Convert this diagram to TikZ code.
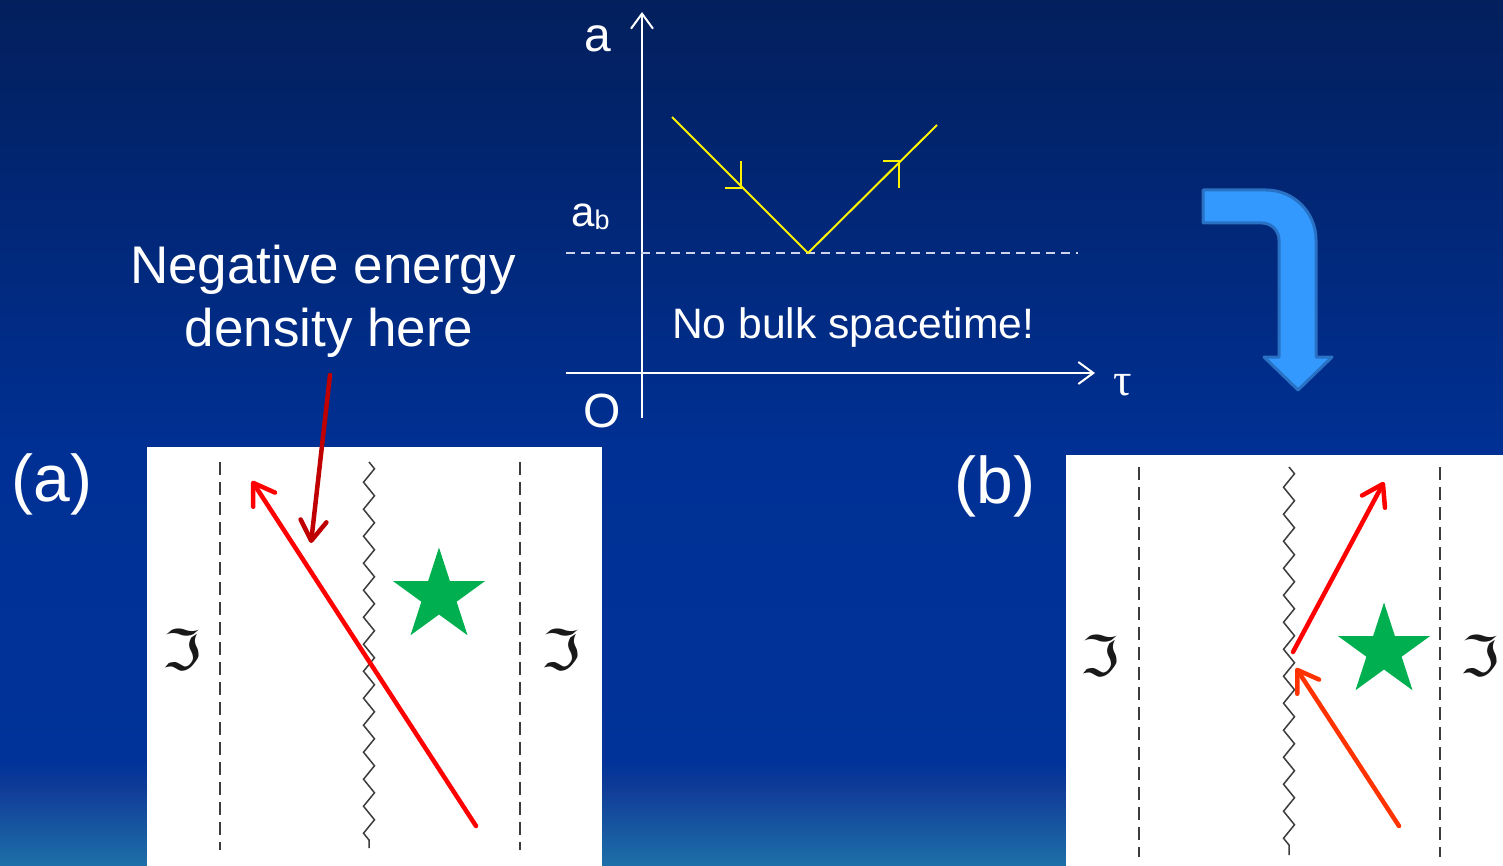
\documentclass[tikz,border=0pt]{standalone}
\usepackage{fontspec}
\setmainfont{Liberation Sans}
\newfontfamily\taufont{Liberation Serif}
\newfontfamily\scrifont{DejaVu Sans}
\usetikzlibrary{arrows.meta,decorations.pathmorphing,shapes.geometric,calc}
\definecolor{bgtop}{RGB}{3,31,92}
\definecolor{bgmid}{RGB}{0,48,148}
\definecolor{bglow}{RGB}{0,51,153}
\definecolor{bgpur}{RGB}{16,60,152}
\definecolor{bgbot}{RGB}{30,112,168}
\definecolor{starg}{RGB}{0,176,80}
\definecolor{darkred}{RGB}{192,0,0}
\definecolor{orred}{RGB}{255,51,0}
\definecolor{arrowblue}{RGB}{51,153,255}
\definecolor{arrowedge}{RGB}{41,113,196}
\definecolor{dashwhite}{RGB}{205,212,235}
\definecolor{zzgray}{RGB}{60,60,60}
\pgfdeclareverticalshading{bgshade}{100bp}{color(0bp)=(bgbot); color(25bp)=(bgbot); color(29.5bp)=(bgpur); color(31bp)=(bglow); color(49bp)=(bgmid); color(75bp)=(bgtop); color(100bp)=(bgtop)}
\tikzset{
  lbl/.style={text=white, inner sep=0pt},
  axisline/.style={draw=white, line width=2pt, -{Straight Barb[length=15pt,width=22pt]}},
  yel/.style={draw=yellow, line width=2pt},
  panel/.style={fill=white, draw=none},
  bound/.style={draw=zzgray, line width=1.5pt, dash pattern=on 13pt off 7pt},
  zz/.style={draw=zzgray, line width=1.5pt, decorate, decoration={zigzag, segment length=27pt, amplitude=5.5pt}},
  ray/.style={line width=4.5pt, line cap=round, -{Straight Barb[length=20pt,width=26pt,round]}},
  scri/.style={font=\scrifont\fontsize{56}{56}\selectfont, text=black!90, inner sep=0pt},
  bigstar/.style={star, star points=5, star point ratio=2.618, minimum size=97pt, inner sep=0pt, fill=starg, draw=none}
}
\begin{document}
\begin{tikzpicture}[x=1pt,y=-1pt]
\useasboundingbox (0,0) rectangle (1503,866);
\fill[shading=bgshade] (0,0) rectangle (1503,866);

% ---- top diagram ----
\coordinate (vbot) at (642,418);
\coordinate (vtop) at (642,12);
\coordinate (hleft) at (566,373);
\coordinate (hright) at (1095,373);
\draw[axisline] (vbot) -- (vtop);
\draw[axisline] (hleft) -- (hright);
\coordinate (dl) at (566,253);
\coordinate (dr) at (1078,253);
\draw[dashwhite, line width=2pt, dash pattern=on 9pt off 6pt] (dl) -- (dr);

\node[lbl, font=\fontsize{48}{48}\selectfont, anchor=base] (alab) at (598,52) {a};
\node[lbl, font=\fontsize{42}{42}\selectfont, anchor=base west] (ablab) at (571,227) {a\raisebox{-3pt}{\fontsize{27}{27}\selectfont b}};
\node[lbl, font=\fontsize{48}{48}\selectfont, anchor=base] (olab) at (602,427) {O};
\node[lbl, font=\taufont\fontsize{46}{46}\selectfont, anchor=base] (taulab) at (1123,395) {τ};
\node[lbl, font=\fontsize{42.6}{42.6}\selectfont, anchor=base west] (nobulk) at (672,338) {No bulk spacetime!};

\coordinate (y1) at (672,117);
\coordinate (yb) at (808,253);
\coordinate (y2) at (937,125);
\draw[yel, line join=round] (y1) -- (yb) -- (y2);
\coordinate (m1) at (741,188);
\coordinate (m2) at (899,161);
\draw[yel] ($(m1)+(-16,0)$) -- (m1) -- ($(m1)+(0,-27)$);
\draw[yel] ($(m2)+(-16,0)$) -- (m2) -- ($(m2)+(0,27)$);

% ---- blue bent arrow ----
\filldraw[fill=arrowblue, draw=arrowedge, line width=3pt, line join=round]
  (1203,190) -- (1266,190) .. controls (1293.6,190) and (1316,212.4) .. (1316,240)
  -- (1316,357) -- (1332,357) -- (1298,390) -- (1264,357) -- (1279,357)
  -- (1279,240) .. controls (1279,230.6) and (1271.4,223) .. (1262,223)
  -- (1203,223) -- cycle;

% ---- text left ----
\node[lbl, font=\fontsize{53}{62}\selectfont, anchor=base] (neg1) at (323,284) {Negative energy};
\node[lbl, font=\fontsize{53}{62}\selectfont, anchor=base] (neg2) at (329,346) {density here};

% ---- panel (a) ----
\fill[panel] (147,447) rectangle (602,866);
\node[lbl, font=\fontsize{66}{66}\selectfont, anchor=base] (plabA) at (52,501) {(a)};
\coordinate (aL1) at (220,462); \coordinate (aL2) at (220,850);
\coordinate (aR1) at (520,462); \coordinate (aR2) at (520,850);
\draw[bound] (aL1) -- (aL2);
\draw[bound] (aR1) -- (aR2);
\coordinate (az1) at (369,462); \coordinate (az2) at (369,848);
\draw[zz] (az1) -- (az2);
\node[bigstar] (starA) at (439,596) {};
\node[scri] (scriA1) at (182,650) {ℑ};
\node[scri] (scriA2) at (561,650) {ℑ};
\coordinate (rayAs) at (476,826);
\coordinate (rayAe) at (252,481);
\draw[ray, red] (rayAs) -- (rayAe);
\coordinate (negs) at (330,375);
\coordinate (nege) at (311,543);
\draw[ray, darkred] (negs) -- (nege);

% ---- panel (b) ----
\fill[panel] (1066,455) rectangle (1503,866);
\node[lbl, font=\fontsize{66}{66}\selectfont, anchor=base] (plabB) at (995,503) {(b)};
\coordinate (bL1) at (1139,467); \coordinate (bL2) at (1139,857);
\coordinate (bR1) at (1440,467); \coordinate (bR2) at (1440,857);
\draw[bound] (bL1) -- (bL2);
\draw[bound] (bR1) -- (bR2);
\coordinate (bz1) at (1289,467); \coordinate (bz2) at (1289,855);
\draw[zz] (bz1) -- (bz2);
\node[bigstar] (starB) at (1384,651) {};
\node[scri] (scriB1) at (1100,656) {ℑ};
\node[scri] (scriB2) at (1480,656) {ℑ};
\coordinate (rayBs) at (1293,652);
\coordinate (rayBe) at (1384,482);
\draw[ray, red] (rayBs) -- (rayBe);
\coordinate (rayCs) at (1399,826);
\coordinate (rayCe) at (1296,668);
\draw[ray, orred] (rayCs) -- (rayCe);
\end{tikzpicture}
\end{document}
